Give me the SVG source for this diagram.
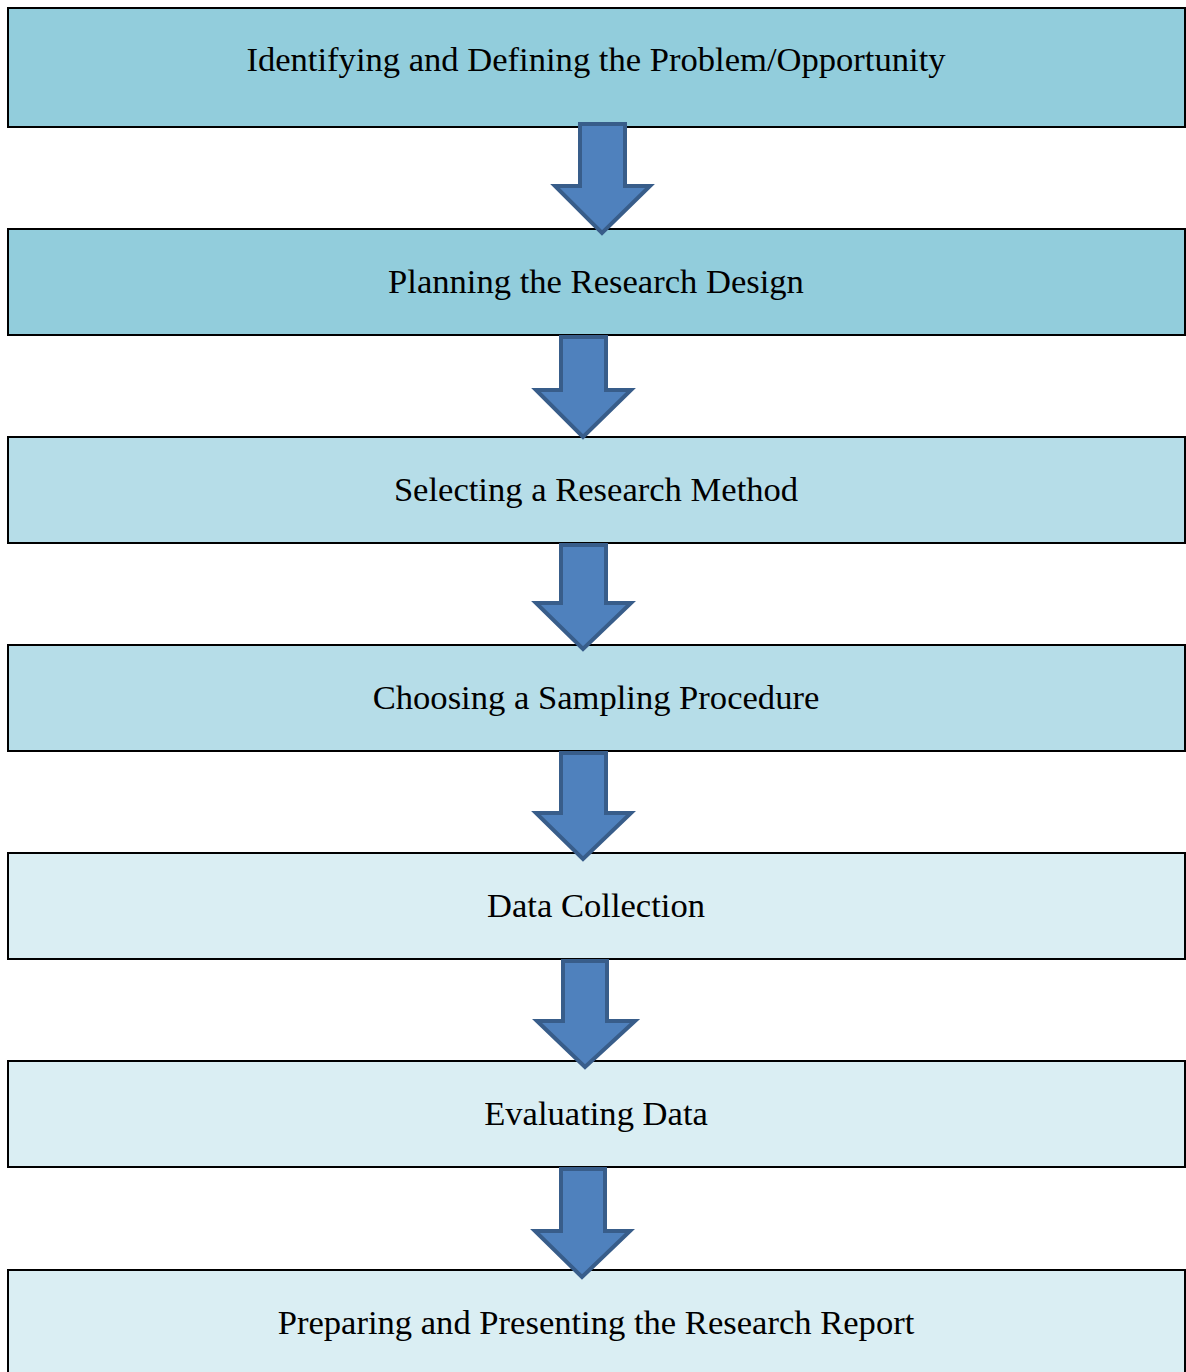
<svg xmlns="http://www.w3.org/2000/svg" width="1186" height="1372" viewBox="0 0 1186 1372">
  <style>
    .box { stroke: #000000; stroke-width: 2; }
    .dark { fill: #92CDDC; }
    .mid { fill: #B6DDE8; }
    .light { fill: #DAEEF3; }
    .label { font-family: "Liberation Serif", "Times New Roman", serif; font-size: 34.6px; fill: #000000; text-anchor: middle; }
    .arrow { fill: #4F81BD; stroke: #385D8A; stroke-width: 4; stroke-linejoin: miter; }
  </style>
  <rect width="1186" height="1372" fill="#FFFFFF"/>

  <g id="step1">
    <rect class="box dark" x="8" y="8" width="1177" height="119"/>
    <text class="label" x="596" y="71">Identifying and Defining the Problem/Opportunity</text>
  </g>
  <g id="step2">
    <rect class="box dark" x="8" y="229" width="1177" height="106"/>
    <text class="label" x="596" y="293">Planning the Research Design</text>
  </g>
  <g id="step3">
    <rect class="box mid" x="8" y="437" width="1177" height="106"/>
    <text class="label" x="596" y="501">Selecting a Research Method</text>
  </g>
  <g id="step4">
    <rect class="box mid" x="8" y="645" width="1177" height="106"/>
    <text class="label" x="596" y="709">Choosing a Sampling Procedure</text>
  </g>
  <g id="step5">
    <rect class="box light" x="8" y="853" width="1177" height="106"/>
    <text class="label" x="596" y="917">Data Collection</text>
  </g>
  <g id="step6">
    <rect class="box light" x="8" y="1061" width="1177" height="106"/>
    <text class="label" x="596" y="1125">Evaluating Data</text>
  </g>
  <g id="step7">
    <rect class="box light" x="8" y="1270" width="1177" height="110"/>
    <text class="label" x="596" y="1334">Preparing and Presenting the Research Report</text>
  </g>

  <!-- block arrows between the steps -->
  <g id="connectors">
    <polygon class="arrow" points="580,124 625,124 625,186 650,186 602,233 555,186 580,186"/>
    <polygon class="arrow" points="561,337 606,337 606,390 631,390 583,437 536,390 561,390"/>
    <polygon class="arrow" points="561,545 606,545 606,603 631,603 583,649 536,603 561,603"/>
    <polygon class="arrow" points="561,753 606,753 606,813 631,813 583,859 536,813 561,813"/>
    <polygon class="arrow" points="563,961 607,961 607,1021 635,1021 585,1067 537,1021 563,1021"/>
    <polygon class="arrow" points="561,1169 605,1169 605,1231 630,1231 582,1277 535,1231 561,1231"/>
  </g>
</svg>
